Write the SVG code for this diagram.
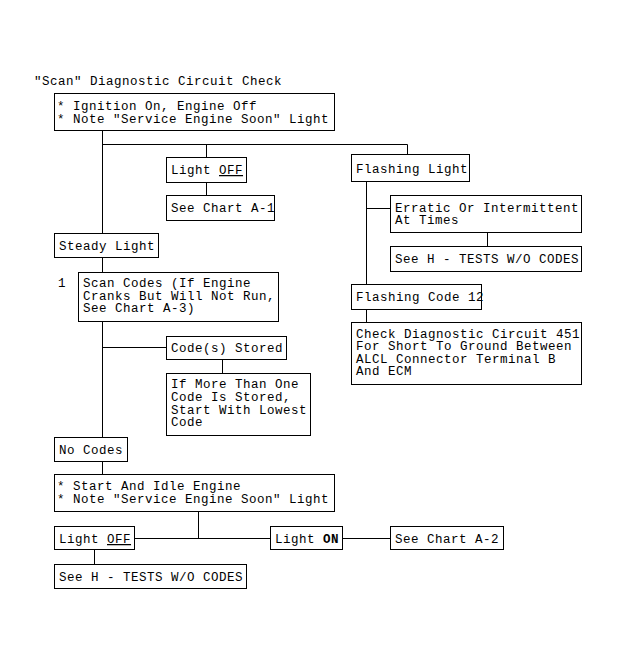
<svg xmlns="http://www.w3.org/2000/svg" width="621" height="664" viewBox="0 0 621 664">
<style>
rect { fill: #fff; stroke: #000; stroke-width: 1; }
line { stroke: #000; stroke-width: 1; }
text { font-family: "Liberation Mono", "DejaVu Sans Mono", monospace; font-size: 12.5px; letter-spacing: 0.5px; fill: #000; }
.u { text-decoration: underline; }
.b { font-weight: bold; }
</style>
<rect x="0" y="0" width="621" height="664" style="stroke:none;fill:#fff"/>
<text x="34" y="85">"Scan" Diagnostic Circuit Check</text>
<g id="connectors">
<line x1="102.5" y1="131" x2="102.5" y2="233"/>
<line x1="102.5" y1="144.5" x2="407.5" y2="144.5"/>
<line x1="206.5" y1="144.5" x2="206.5" y2="157"/>
<line x1="407.5" y1="144.5" x2="407.5" y2="154"/>
<line x1="206.5" y1="183" x2="206.5" y2="195"/>
<line x1="366.5" y1="182" x2="366.5" y2="284"/>
<line x1="366.5" y1="208.5" x2="391" y2="208.5"/>
<line x1="487.5" y1="233" x2="487.5" y2="246"/>
<line x1="366.5" y1="310" x2="366.5" y2="322"/>
<line x1="102.5" y1="258" x2="102.5" y2="272"/>
<line x1="102.5" y1="322" x2="102.5" y2="437"/>
<line x1="102.5" y1="347.5" x2="167" y2="347.5"/>
<line x1="222.5" y1="360" x2="222.5" y2="373"/>
<line x1="102.5" y1="462" x2="102.5" y2="474"/>
<line x1="198.5" y1="512" x2="198.5" y2="538.5"/>
<line x1="135" y1="538.5" x2="270" y2="538.5"/>
<line x1="343" y1="538.5" x2="390" y2="538.5"/>
<line x1="94.5" y1="550" x2="94.5" y2="564"/>
</g>
<g id="n_start">
<rect x="54.5" y="93.5" width="280" height="37"/>
<text x="57" y="110">* Ignition On, Engine Off<tspan x="57" dy="13">* Note "Service Engine Soon" Light</tspan></text>
</g>
<g id="n_lightoff1">
<rect x="166.5" y="157.5" width="80" height="25"/>
<text x="171" y="174">Light <tspan class="u">OFF</tspan></text>
</g>
<g id="n_chartA1">
<rect x="166.5" y="195.5" width="108" height="25"/>
<text x="171" y="212">See Chart A-1</text>
</g>
<g id="n_flashing">
<rect x="351.5" y="154.5" width="118" height="27"/>
<text x="356" y="173">Flashing Light</text>
</g>
<g id="n_erratic">
<rect x="390.5" y="195.5" width="191" height="37"/>
<text x="395" y="212">Erratic Or Intermittent<tspan x="395" dy="12">At Times</tspan></text>
</g>
<g id="n_seeH1">
<rect x="390.5" y="246.5" width="191" height="25"/>
<text x="395" y="263">See H - TESTS W/O CODES</text>
</g>
<g id="n_code12">
<rect x="351.5" y="284.5" width="130" height="25"/>
<text x="356" y="301">Flashing Code 12</text>
</g>
<g id="n_check">
<rect x="351.5" y="322.5" width="230" height="62"/>
<text x="356" y="338">Check Diagnostic Circuit 451<tspan x="356" dy="12.3">For Short To Ground Between</tspan><tspan x="356" dy="12.3">ALCL Connector Terminal B</tspan><tspan x="356" dy="12.3">And ECM</tspan></text>
</g>
<g id="n_steady">
<rect x="54.5" y="233.5" width="104" height="24"/>
<text x="59" y="250">Steady Light</text>
</g>
<g id="n_scan">
<text x="58" y="287">1</text>
<rect x="78.5" y="272.5" width="200" height="49"/>
<text x="83" y="287">Scan Codes (If Engine<tspan x="83" dy="12.7">Cranks But Will Not Run,</tspan><tspan x="83" dy="12.7">See Chart A-3)</tspan></text>
</g>
<g id="n_stored">
<rect x="166.5" y="336.5" width="120" height="23"/>
<text x="171" y="352">Code(s) Stored</text>
</g>
<g id="n_ifmore">
<rect x="166.5" y="373.5" width="144" height="62"/>
<text x="171" y="388">If More Than One<tspan x="171" dy="12.8">Code Is Stored,</tspan><tspan x="171" dy="12.8">Start With Lowest</tspan><tspan x="171" dy="12.8">Code</tspan></text>
</g>
<g id="n_nocodes">
<rect x="54.5" y="437.5" width="73" height="24"/>
<text x="59" y="454">No Codes</text>
</g>
<g id="n_idle">
<rect x="54.5" y="474.5" width="280" height="37"/>
<text x="57" y="490">* Start And Idle Engine<tspan x="57" dy="13">* Note "Service Engine Soon" Light</tspan></text>
</g>
<g id="n_lightoff2">
<rect x="54.5" y="526.5" width="80" height="23"/>
<text x="59" y="543">Light <tspan class="u">OFF</tspan></text>
</g>
<g id="n_lighton">
<rect x="270.5" y="526.5" width="72" height="23"/>
<text x="275" y="543">Light <tspan class="b">ON</tspan></text>
</g>
<g id="n_chartA2">
<rect x="390.5" y="526.5" width="113" height="23"/>
<text x="395" y="543">See Chart A-2</text>
</g>
<g id="n_seeH2">
<rect x="54.5" y="564.5" width="192" height="24"/>
<text x="59" y="581">See H - TESTS W/O CODES</text>
</g>
</svg>
